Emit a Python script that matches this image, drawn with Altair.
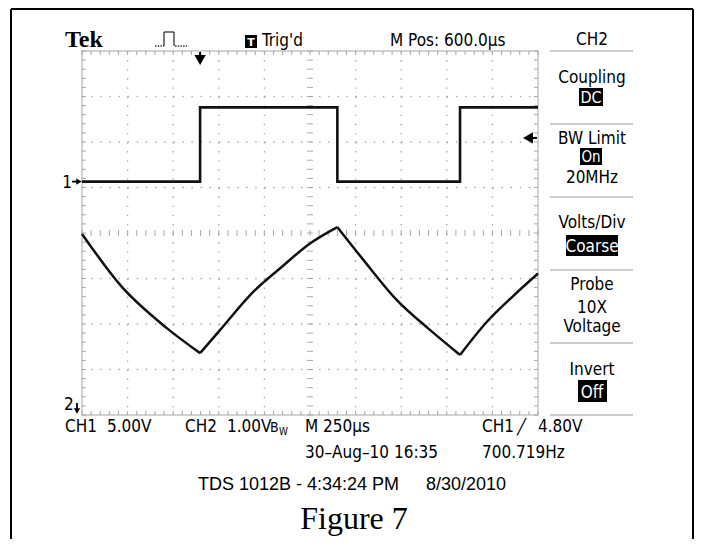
import altair as alt
import pandas as pd
import numpy as np

# ---------------- data (screen divisions: x 0..10 at 250 us/div, y 0..8) ----------------
ch1_t = [0.0, 2.59, 2.59, 5.60, 5.60, 8.29, 8.29, 10.0]
ch1_v = [5.13, 5.13, 6.76, 6.76, 5.13, 5.13, 6.76, 6.76]

ch2_t = [0.0, 0.87, 1.86, 2.59, 3.03, 3.76, 4.34, 5.00, 5.60,
         6.17, 6.90, 7.63, 8.29, 8.88, 9.46, 10.0]
ch2_v = [3.98, 2.82, 1.91, 1.36, 1.87, 2.71, 3.22, 3.77, 4.13,
         3.41, 2.53, 1.87, 1.32, 2.05, 2.62, 3.11]
ch2_corners = [2.59, 5.60, 8.29]   # turning points of the triangle

ch1_ground = 5.13      # div, CH1 "1" marker
ch1_volts_div = 5.0
trig_level = 4.80      # V
trig_time = 2.59       # div

panel_titles = ["Coupling", "BW Limit", "Volts/Div", "Probe", "Invert"]
panel_boxes = ["DC", "On", "Coarse", "Off"]

# ---------------- layout ----------------
X0, Y0 = 82, 51          # page position of the graticule's top-left corner
W, H = 456, 364
SCOPE = "DejaVu Sans Condensed, Liberation Sans Narrow, DejaVu Sans, sans-serif"
GRID = "#a8a8a8"
ONE = pd.DataFrame({"k": [0]})

xs = alt.Scale(domain=[0, 10], nice=False, zero=False)
ys = alt.Scale(domain=[0, 8], nice=False, zero=False)


def X(f):
    return alt.X(f, type="quantitative", scale=xs, axis=None)


def Y(f):
    return alt.Y(f, type="quantitative", scale=ys, axis=None)


def txt(s, px, py, size=17, font=SCOPE, align="left", color="black", weight="normal"):
    return alt.Chart(ONE).mark_text(
        text=s, align=align, baseline="alphabetic", font=font, fontSize=size,
        fontWeight=weight, color=color
    ).encode(x=alt.value(px - X0), y=alt.value(py - Y0))


def box(x1, x2, y1, y2, color="black"):
    return alt.Chart(ONE).mark_rect(color=color).encode(
        x=alt.value(x1 - X0), x2=alt.value(x2 - X0),
        y=alt.value(y1 - Y0), y2=alt.value(y2 - Y0))


def seg(x1, y1, x2, y2, color="black", width=1.0, dash=None):
    kw = dict(color=color, strokeWidth=width)
    if dash:
        kw["strokeDash"] = dash
    return alt.Chart(ONE).mark_rule(**kw).encode(
        x=alt.value(x1 - X0), x2=alt.value(x2 - X0),
        y=alt.value(y1 - Y0), y2=alt.value(y2 - Y0))


layers = []

# ---------------- graticule ----------------
gx = pd.DataFrame({"x": np.round(np.arange(0, 10.001, 0.2), 2)})
gy = pd.DataFrame({"y": np.round(np.arange(0, 8.001, 0.2), 2)})
vdiv = pd.DataFrame({"x": [1, 2, 3, 4, 6, 7, 8, 9]})
hdiv = pd.DataFrame({"y": [1, 2, 3, 5, 6, 7]})

layers += [
    alt.Chart(vdiv).mark_rule(color=GRID, strokeWidth=1.4, strokeDash=[1.4, H / 40 - 1.4]).encode(
        x=X("x"), y=alt.value(0), y2=alt.value(H)),
    alt.Chart(hdiv).mark_rule(color=GRID, strokeWidth=1.4, strokeDash=[1.4, W / 50 - 1.4]).encode(
        y=Y("y"), x=alt.value(0), x2=alt.value(W)),
    alt.Chart(gx).mark_rule(color=GRID).encode(x=X("x"), y=alt.value(0), y2=alt.value(4)),
    alt.Chart(gx).mark_rule(color=GRID).encode(x=X("x"), y=alt.value(H - 4), y2=alt.value(H)),
    alt.Chart(gy).mark_rule(color=GRID).encode(y=Y("y"), x=alt.value(0), x2=alt.value(4)),
    alt.Chart(gy).mark_rule(color=GRID).encode(y=Y("y"), x=alt.value(W - 4), x2=alt.value(W)),
    alt.Chart(gy).mark_rule(color=GRID).encode(y=Y("y"), x=alt.value(W / 2 - 3), x2=alt.value(W / 2 + 3)),
    alt.Chart(gx).mark_rule(color=GRID).encode(x=X("x"), y=alt.value(H / 2 - 3), y2=alt.value(H / 2 + 3)),
]

# ---------------- traces ----------------
ch1 = pd.DataFrame({"t": ch1_t, "v": ch1_v, "i": range(len(ch1_t))})

bounds = [ch2_t[0]] + ch2_corners + [ch2_t[-1]]
rows = []
for r in range(len(bounds) - 1):
    for t, v in zip(ch2_t, ch2_v):
        if bounds[r] <= t <= bounds[r + 1]:
            rows.append({"t": t, "v": v, "ramp": r})
ch2 = pd.DataFrame(rows)

layers += [
    alt.Chart(ch2).mark_line(color="#111", strokeWidth=2.5, interpolate="monotone").encode(
        x=X("t"), y=Y("v"), detail="ramp:N"),
    alt.Chart(ch1).mark_line(color="#111", strokeWidth=2.6).encode(x=X("t"), y=Y("v"), order="i:Q"),
]

# ---------------- markers ----------------
gnd = pd.DataFrame({"v": [ch1_ground]})
tlev = pd.DataFrame({"v": [ch1_ground + trig_level / ch1_volts_div]})
tpos = pd.DataFrame({"t": [trig_time]})
layers += [
    alt.Chart(gnd).mark_rule(color="black", strokeWidth=1.8).encode(
        x=alt.value(-10), x2=alt.value(-4), y=Y("v")),
    alt.Chart(gnd).mark_point(shape="triangle-right", filled=True, color="black", opacity=1, size=40).encode(
        x=alt.value(-3), y=Y("v")),
    alt.Chart(gnd).mark_text(text="1", align="right", baseline="middle", font=SCOPE, fontSize=17, dy=1).encode(
        x=alt.value(-10), y=Y("v")),
    alt.Chart(tlev).mark_rule(color="black", strokeWidth=2).encode(
        x=alt.value(W - 8), x2=alt.value(W - 1), y=Y("v")),
    alt.Chart(tlev).mark_point(shape="triangle-left", filled=True, color="black", opacity=1, size=130).encode(
        x=alt.value(W - 10), y=Y("v")),
    alt.Chart(tpos).mark_rule(color="black", strokeWidth=2).encode(
        x=X("t"), y=alt.value(1), y2=alt.value(7)),
    alt.Chart(tpos).mark_point(shape="triangle-down", filled=True, color="black", opacity=1, size=130).encode(
        x=X("t"), y=alt.value(9)),
    # CH2 reference (off-screen below)
    seg(77, 403, 77, 410, width=1.8),
    alt.Chart(ONE).mark_point(shape="triangle-down", filled=True, color="black", opacity=1, size=40).encode(
        x=alt.value(77 - X0), y=alt.value(411 - Y0)),
    txt("2", 64, 410),
]

# ---------------- outer frame ----------------
layers += [
    seg(11, 9, 693, 9, width=2),
    seg(11, 9, 11, 560, width=2),
    seg(693, 9, 693, 560, width=2),
]

# ---------------- top status line ----------------
layers += [
    txt("Tek", 65, 47, size=24, font="Liberation Serif", weight="bold"),
    seg(155, 46, 164, 46, color="#333", width=1.3, dash=[1.5, 1.2]),
    seg(164, 46, 164, 32, color="#333", width=1.3),
    seg(164, 32, 174, 32, color="#333", width=1.3),
    seg(174, 32, 174, 46, color="#333", width=1.3),
    seg(175, 46, 187, 46, color="#333", width=1.3, dash=[1.5, 1.2]),
    box(245, 257, 35, 48),
    txt("T", 251, 46, size=11, font="DejaVu Sans", align="center", color="white", weight="bold"),
    txt("Trig'd", 262, 46),
    txt("M Pos: 600.0\u00b5s", 390, 46),
    txt("CH2", 592, 45, align="center"),
]

# ---------------- right menu ----------------
for yy in [51, 124, 197, 270, 343, 415]:
    layers.append(seg(550, yy, 633, yy, color="#bdbdbd", width=1.5))

layers += [
    txt(panel_titles[0], 592, 83, align="center"),
    box(579, 603, 88, 106),
    txt(panel_boxes[0], 591, 103, size=16, align="center", color="white"),
    txt(panel_titles[1], 592, 144, align="center"),
    box(580, 602, 148, 165),
    txt(panel_boxes[1], 591, 162, size=15, align="center", color="white"),
    txt("20MHz", 592, 183, align="center"),
    txt(panel_titles[2], 592, 228, align="center"),
    box(566, 618, 235, 256),
    txt(panel_boxes[2], 592, 252, align="center", color="white"),
    txt(panel_titles[3], 592, 290, align="center"),
    txt("10X", 592, 313, align="center"),
    txt("Voltage", 592, 332, align="center"),
    txt(panel_titles[4], 592, 375, align="center"),
    box(578, 607, 380, 402),
    txt(panel_boxes[3], 592, 398, align="center", color="white"),
]

# ---------------- bottom status lines ----------------
layers += [
    txt("CH1", 65, 432), txt("5.00V", 107, 432),
    txt("CH2", 185, 432), txt("1.00V", 227, 432),
    txt("B", 270, 432, size=14), txt("W", 279, 435, size=10),
    txt("M 250\u00b5s", 305, 432),
    txt("CH1", 482, 432), txt("\u2571", 517, 432, size=15, font="DejaVu Sans"), txt("4.80V", 538, 432),
    txt("30\u2013Aug\u201310 16:35", 305, 458),
    txt("700.719Hz", 482, 458),
    txt("TDS 1012B - 4:34:24 PM", 198, 490, size=18, font="Liberation Sans"),
    txt("8/30/2010", 426, 490, size=18, font="Liberation Sans"),
    txt("Figure 7", 354, 529, size=32, font="Liberation Serif", align="center"),
]

chart = alt.layer(*layers).properties(
    width=W, height=H,
    padding={"left": X0 - 8, "top": Y0 - 8, "right": 694 - X0 - W, "bottom": 124},
    autosize=alt.AutoSizeParams(type="none"),
    background="white",
).configure_view(stroke="#c4c4c4", strokeWidth=1.5)

chart.save("out.html", embed_options={"renderer": "svg", "actions": False})
